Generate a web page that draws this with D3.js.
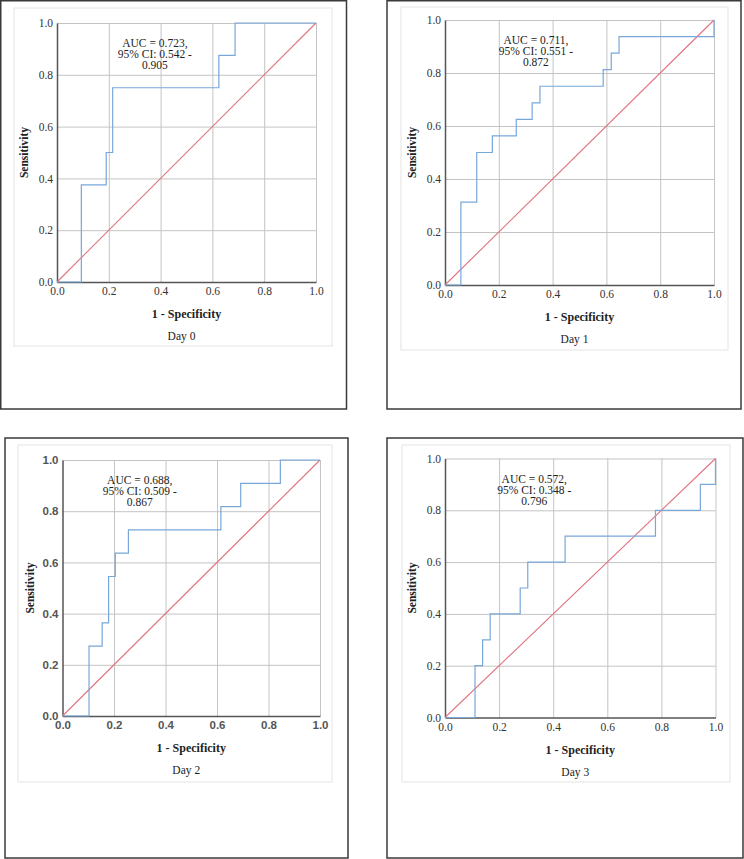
<!DOCTYPE html>
<html>
<head>
<meta charset="utf-8">
<script src="https://cdn.jsdelivr.net/npm/d3@7"></script>
<style>
  html, body { margin: 0; padding: 0; background: #fff; }
  svg { display: block; }
</style>
</head>
<body>
<svg id="chart" width="744" height="859"></svg>
<script>
// ---------------- DATA ----------------
const panelTitles = ["Day 0", "Day 1", "Day 2", "Day 3"];
const aucLabels = [
  ["AUC = 0.723,", "95% CI: 0.542 -", "0.905"],
  ["AUC = 0.711,", "95% CI: 0.551 -", "0.872"],
  ["AUC = 0.688,", "95% CI: 0.509 -", "0.867"],
  ["AUC = 0.572,", "95% CI: 0.348 -", "0.796"]
];
const tickValues = [0, 0.2, 0.4, 0.6, 0.8, 1.0];
const xTitle = "1 - Specificity";
const yTitle = "Sensitivity";

// ROC corner points (1 - specificity, sensitivity), drawn as step-after
const fprDay0 = [0, 0.094, 0.19, 0.215, 0.625, 0.6875, 1];
const tprDay0 = [0, 0.375, 0.5, 0.75, 0.875, 1, 1];

const fprDay1 = [0, 0.059, 0.118, 0.176, 0.265, 0.324, 0.353, 0.588, 0.618, 0.647, 1];
const tprDay1 = [0, 0.3125, 0.5, 0.5625, 0.625, 0.6875, 0.75, 0.8125, 0.875, 0.9375, 1];

const fprDay2 = [0, 0.103, 0.154, 0.179, 0.205, 0.256, 0.615, 0.692, 0.846, 1];
const tprDay2 = [0, 0.273, 0.364, 0.545, 0.636, 0.727, 0.818, 0.909, 1, 1];

const fprDay3 = [0, 0.111, 0.139, 0.167, 0.278, 0.306, 0.444, 0.778, 0.944, 1];
const tprDay3 = [0, 0.2, 0.3, 0.4, 0.5, 0.6, 0.7, 0.8, 0.9, 1];

const diagonal = [0, 1];

const fprs = [fprDay0, fprDay1, fprDay2, fprDay3];
const tprs = [tprDay0, tprDay1, tprDay2, tprDay3];

// ---------------- LAYOUT ----------------
const layout = [
  { box: [0.75, 0.75, 346.5, 409], inner: [14, 8, 332, 346], plot: [57, 23, 316, 282], aucX: 0.378, sans: false },
  { box: [387, 0.75, 741, 409], inner: [401, 7, 728, 350], plot: [445, 20, 714, 285], aucX: 0.338, sans: false },
  { box: [5, 438, 348, 858], inner: [18, 445, 332, 782], plot: [62.5, 460, 320, 716], aucX: 0.30, sans: true },
  { box: [387, 438, 743, 858], inner: [402, 445, 730, 782], plot: [445, 458.5, 715.5, 717.5], aucX: 0.33, sans: false }
];

const svg = d3.select("#chart");
const serif = "'Liberation Serif', 'Times New Roman', serif";
const sans = "'Liberation Sans', Arial, sans-serif";

layout.forEach((L, i) => {
  const g = svg.append("g");
  // outer panel border
  g.append("rect")
    .attr("x", L.box[0]).attr("y", L.box[1])
    .attr("width", L.box[2] - L.box[0]).attr("height", L.box[3] - L.box[1])
    .attr("fill", "none").attr("stroke", "#3a3a3a").attr("stroke-width", 1.5);
  // faint inner frame
  g.append("rect")
    .attr("x", L.inner[0]).attr("y", L.inner[1])
    .attr("width", L.inner[2] - L.inner[0]).attr("height", L.inner[3] - L.inner[1])
    .attr("fill", "none").attr("stroke", "#e4e4e4").attr("stroke-width", 1);

  const [x0, y0, x1, y1] = L.plot;
  const x = d3.scaleLinear().domain([0, 1]).range([x0, x1]);
  const y = d3.scaleLinear().domain([0, 1]).range([y1, y0]);
  const W = x1 - x0, H = y1 - y0;

  // grid
  const gridX = g.append("g").attr("transform", `translate(0,${y1})`)
    .call(d3.axisBottom(x).tickValues(tickValues.slice(1)).tickSize(-H).tickFormat(""));
  gridX.select(".domain").remove();
  gridX.selectAll("line").attr("stroke", "#c4c4c4").attr("stroke-width", 1);
  const gridY = g.append("g").attr("transform", `translate(${x0},0)`)
    .call(d3.axisLeft(y).tickValues(tickValues.slice(1)).tickSize(-W).tickFormat(""));
  gridY.select(".domain").remove();
  gridY.selectAll("line").attr("stroke", "#c4c4c4").attr("stroke-width", 1);

  const tickFont = L.sans ? sans : serif;
  const tickColor = L.sans ? "#555" : "#333";
  const tickWeight = L.sans ? "bold" : "normal";
  const tickSize = L.sans ? "11.5px" : "11.5px";

  // axes
  const ax = g.append("g").attr("transform", `translate(0,${y1})`)
    .call(d3.axisBottom(x).tickValues(tickValues).tickSize(0).tickPadding(5).tickFormat(d3.format(".1f")));
  ax.select(".domain").attr("stroke", "#555").attr("stroke-width", 1.5);
  ax.selectAll("text").attr("font-family", tickFont).attr("font-size", tickSize)
    .attr("font-weight", tickWeight).attr("fill", tickColor);
  const ay = g.append("g").attr("transform", `translate(${x0},0)`)
    .call(d3.axisLeft(y).tickValues(tickValues).tickSize(0).tickPadding(4).tickFormat(d3.format(".1f")));
  ay.select(".domain").attr("stroke", "#555").attr("stroke-width", 1.5);
  ay.selectAll("text").attr("font-family", tickFont).attr("font-size", tickSize)
    .attr("font-weight", tickWeight).attr("fill", tickColor);

  // diagonal reference
  g.append("path")
    .datum(diagonal)
    .attr("d", d3.line().x(d => x(d)).y(d => y(d)))
    .attr("fill", "none").attr("stroke", "#e0727f").attr("stroke-width", 1.1);

  // ROC step curve
  const pts = fprs[i].map((f, k) => [f, tprs[i][k]]);
  g.append("path")
    .datum(pts)
    .attr("d", d3.line().x(d => x(d[0])).y(d => y(d[1])).curve(d3.curveStepAfter))
    .attr("fill", "none").attr("stroke", "#78a7da").attr("stroke-width", 1.2);

  // AUC annotation
  const at = g.append("text")
    .attr("font-family", serif).attr("font-size", "11.5px").attr("fill", "#222")
    .attr("text-anchor", "middle");
  aucLabels[i].forEach((s, k) => {
    at.append("tspan").attr("x", x(L.aucX)).attr("y", y0 + 24 + k * 11).text(s);
  });

  // axis titles
  const cx = (x0 + x1) / 2;
  g.append("text")
    .attr("x", cx).attr("y", y1 + 36)
    .attr("text-anchor", "middle")
    .attr("font-family", serif).attr("font-size", "12px").attr("font-weight", "bold").attr("fill", "#222")
    .text(xTitle);
  g.append("text")
    .attr("transform", `translate(${x0 - 29},${(y0 + y1) / 2}) rotate(-90)`)
    .attr("text-anchor", "middle")
    .attr("font-family", serif).attr("font-size", "11.5px").attr("font-weight", "bold").attr("fill", "#222")
    .text(yTitle);
  g.append("text")
    .attr("x", cx - 5).attr("y", y1 + 58)
    .attr("text-anchor", "middle")
    .attr("font-family", serif).attr("font-size", "11.5px").attr("fill", "#222")
    .text(panelTitles[i]);
});
</script>
</body>
</html>
